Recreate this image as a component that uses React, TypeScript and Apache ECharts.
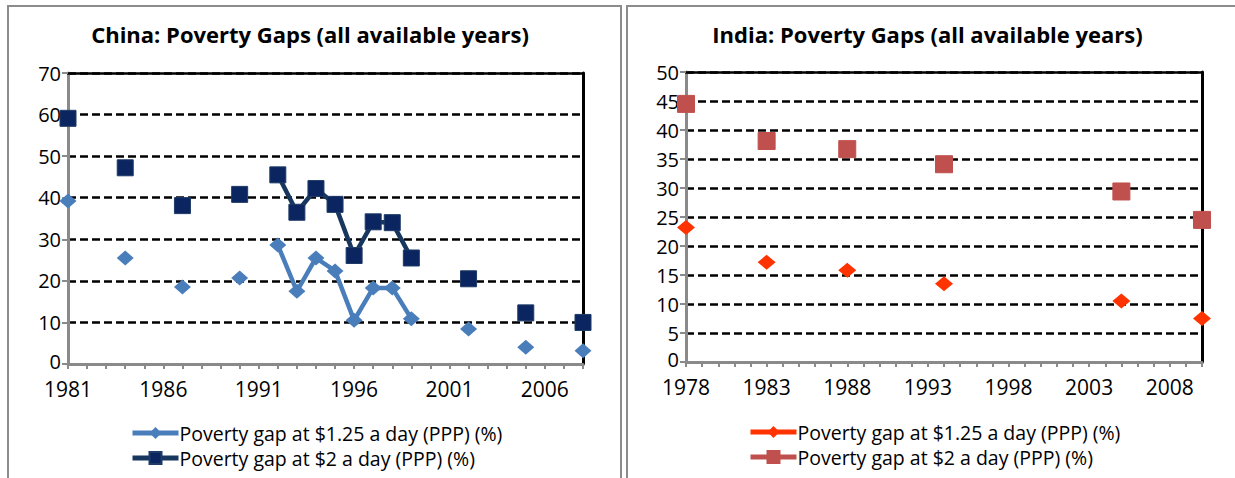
import React, { useEffect, useRef } from "react";
import * as echarts from "echarts";

// ---- Data ----
const chinaYears = [1981, 1984, 1987, 1990, 1992, 1993, 1994, 1995, 1996, 1997, 1998, 1999, 2002, 2005, 2008];
const chinaGap125 = [39.2, 25.5, 18.5, 20.7, 28.6, 17.5, 25.5, 22.4, 10.5, 18.3, 18.3, 10.9, 8.4, 4.0, 3.2];
const chinaGap2 = [59.1, 47.2, 38.1, 40.8, 45.5, 36.5, 42.2, 38.4, 26.1, 34.2, 34.0, 25.5, 20.5, 12.3, 10.0];

const indiaYears = [1978, 1983, 1988, 1994, 2005, 2010];
const indiaGap125 = [23.2, 17.2, 15.8, 13.5, 10.5, 7.5];
const indiaGap2 = [44.5, 38.1, 36.7, 34.1, 29.4, 24.5];

const seriesNames = ["Poverty gap at $1.25 a day (PPP) (%)", "Poverty gap at $2 a day (PPP) (%)"];
const chinaTitle = "China: Poverty Gaps (all available years)";
const indiaTitle = "India: Poverty Gaps (all available years)";

const FONT = "'Open Sans', Lato, sans-serif";

// build [year, value] pairs, inserting breaks where years are not consecutive
function buildData(years: number[], vals: number[]) {
  const out: any[] = [];
  years.forEach((y, i) => {
    if (i > 0 && y - years[i - 1] > 1) out.push([years[i - 1] + 1, "-"]);
    out.push([y, vals[i]]);
  });
  return out;
}

interface Cfg {
  title: string;
  years: number[];
  a: number[];
  b: number[];
  xMin: number;
  xMax: number;
  yMax: number;
  yInterval: number;
  grid: { left: number; top: number; width: number; height: number };
  legendLeft: number;
  legendTop: number;
  colorA: string;
  lineA: string;
  colorB: string;
  lineB: string;
  borderB: string;
  symA: any;
  symB: any;
}

function makeOption(c: Cfg): any {
  const grey = "#8a8a8a";
  return {
    animation: false,
    title: {
      text: c.title,
      left: "center",
      top: 23,
      padding: 0,
      textStyle: { fontFamily: FONT, fontWeight: "bold", fontSize: 22, color: "#000" },
    },
    legend: {
      orient: "vertical",
      left: c.legendLeft,
      top: c.legendTop,
      padding: 0,
      itemWidth: 46,
      itemHeight: 15,
      itemGap: 5,
      data: [
        { name: seriesNames[0], lineStyle: { width: 5, color: c.lineA } },
        { name: seriesNames[1], lineStyle: { width: 5, color: c.lineB } },
      ],
      textStyle: { fontFamily: FONT, fontSize: 19.5, color: "#000", padding: [0, 0, 0, -4] },
    },
    grid: { ...c.grid, containLabel: false },
    xAxis: [
      {
        type: "value",
        min: c.xMin,
        max: c.xMax,
        interval: 1,
        axisLine: { show: true, onZero: false, lineStyle: { color: grey, width: 3 } },
        axisTick: { show: true, length: 5, lineStyle: { color: grey, width: 2 } },
        axisLabel: {
          margin: 16,
          fontFamily: FONT,
          fontSize: 21,
          lineHeight: 18,
          color: "#000",
          formatter: (v: number) => ((v - c.xMin) % 5 === 0 ? String(v) : ""),
        },
        splitLine: { show: false },
      },
      {
        type: "value",
        position: "top",
        min: c.xMin,
        max: c.xMax,
        axisLine: { show: true, onZero: false, lineStyle: { color: "#000", width: 2.5 } },
        axisTick: { show: false },
        axisLabel: { show: false },
        splitLine: { show: false },
      },
    ],
    yAxis: [
      {
        type: "value",
        min: 0,
        max: c.yMax,
        interval: c.yInterval,
        axisLine: { show: true, onZero: false, lineStyle: { color: grey, width: 3 } },
        axisTick: { show: true, length: 6, lineStyle: { color: grey, width: 2 } },
        axisLabel: {
          margin: 7,
          fontFamily: FONT,
          fontSize: 20,
          color: "#000",
          lineHeight: 16,
          formatter: (v: number) => (v === 0 ? "{z|0}" : String(v)),
          rich: {
            z: { fontFamily: FONT, fontSize: 20, color: "#000", lineHeight: 16, padding: [0, 0, 6, 0] },
          },
        },
        splitLine: {
          show: true,
          lineStyle: { color: "#000", width: 2.5, type: [8, 4] },
        },
      },
      {
        type: "value",
        position: "right",
        min: 0,
        max: c.yMax,
        axisLine: { show: true, onZero: false, lineStyle: { color: "#000", width: 3 } },
        axisTick: { show: false },
        axisLabel: { show: false },
        splitLine: { show: false },
      },
    ],
    series: [
      {
        name: seriesNames[0],
        type: "line",
        xAxisIndex: 0,
        yAxisIndex: 0,
        data: buildData(c.years, c.a),
        connectNulls: false,
        symbol: "diamond",
        symbolSize: c.symA,
        showSymbol: true,
        lineStyle: { color: c.lineA, width: 4.5 },
        itemStyle: { color: c.colorA },
        z: 3,
      },
      {
        name: seriesNames[1],
        type: "line",
        xAxisIndex: 0,
        yAxisIndex: 0,
        data: buildData(c.years, c.b),
        connectNulls: false,
        symbol: "rect",
        symbolSize: c.symB,
        showSymbol: true,
        lineStyle: { color: c.lineB, width: 4.5 },
        itemStyle: { color: c.colorB, borderColor: c.borderB, borderWidth: 1 },
        z: 4,
      },
    ],
  };
}

const chinaCfg: Cfg = {
  title: chinaTitle,
  years: chinaYears,
  a: chinaGap125,
  b: chinaGap2,
  xMin: 1981,
  xMax: 2008,
  yMax: 70,
  yInterval: 10,
  grid: { left: 68, top: 73, width: 515, height: 291 },
  legendLeft: 130,
  legendTop: 423,
  colorA: "#4A7EBB",
  lineA: "#4A7EBB",
  colorB: "#0A2560",
  lineB: "#17375E",
  borderB: "#1F3B66",
  symA: [17, 15],
  symB: 16,
};

const indiaCfg: Cfg = {
  title: indiaTitle,
  years: indiaYears,
  a: indiaGap125,
  b: indiaGap2,
  xMin: 1978,
  xMax: 2010,
  yMax: 50,
  yInterval: 5,
  grid: { left: 66, top: 72, width: 516, height: 290 },
  legendLeft: 128,
  legendTop: 422,
  colorA: "#FF3300",
  lineA: "#FF3300",
  colorB: "#C0504D",
  lineB: "#C0504D",
  borderB: "#C0504D",
  symA: [18, 15],
  symB: 17,
};

function Chart({ cfg, style }: { cfg: Cfg; style: React.CSSProperties }) {
  const ref = useRef<HTMLDivElement>(null);
  useEffect(() => {
    if (!ref.current) return;
    const chart = echarts.init(ref.current, undefined, { renderer: "svg" });
    chart.setOption(makeOption(cfg));
    return () => chart.dispose();
  }, [cfg]);
  return <div ref={ref} style={style} />;
}

export default function App() {
  const border = "2.5px solid #8c8c8c";
  return (
    <div style={{ position: "fixed", left: 0, top: 0, width: 1235, height: 478, background: "#fff", overflow: "hidden" }}>
      <div
        style={{
          position: "absolute",
          left: 7,
          top: 5,
          width: 611,
          height: 500,
          borderLeft: border,
          borderTop: border,
          borderRight: border,
        }}
      />
      <div
        style={{
          position: "absolute",
          left: 626,
          top: 5,
          width: 640,
          height: 500,
          borderLeft: border,
          borderTop: border,
        }}
      />
      <Chart cfg={chinaCfg} style={{ position: "absolute", left: 0, top: 0, width: 620, height: 478 }} />
      <Chart cfg={indiaCfg} style={{ position: "absolute", left: 620, top: 0, width: 615, height: 478 }} />
    </div>
  );
}
